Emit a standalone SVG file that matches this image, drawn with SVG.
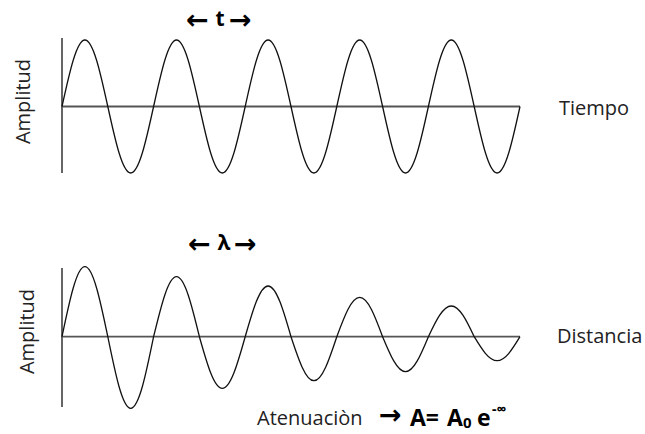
<svg xmlns="http://www.w3.org/2000/svg" width="645" height="434" viewBox="0 0 645 434">
<style>
.axis{stroke:#555;stroke-width:1.8;fill:none}
.wave{stroke:#111;stroke-width:1.3;fill:none}
.lbl{font-family:"Open Sans","Liberation Sans",sans-serif;font-size:20px;fill:#222}
.bold{font-family:"Open Sans","Liberation Sans",sans-serif;font-weight:bold;fill:#000}
.arr{font-family:"DejaVu Sans",sans-serif;font-weight:bold;font-size:27px;fill:#000}
</style>
<rect width="645" height="434" fill="#fff"/>
<g id="top-graph">
<line class="axis" x1="62" y1="38" x2="62" y2="173"/>
<line class="axis" x1="61" y1="106.5" x2="520" y2="106.5"/>
<path class="wave" d="M62,106.5
c 7.47,-34.07 14.61,-66.5 22.9,-66.5 c 8.29,0 15.43,32.43 22.9,66.5 c 7.47,34.07 14.61,66.5 22.9,66.5 c 8.29,0 15.43,-32.43 22.9,-66.5
c 7.47,-34.07 14.61,-66.5 22.9,-66.5 c 8.29,0 15.43,32.43 22.9,66.5 c 7.47,34.07 14.61,66.5 22.9,66.5 c 8.29,0 15.43,-32.43 22.9,-66.5
c 7.47,-34.07 14.61,-66.5 22.9,-66.5 c 8.29,0 15.43,32.43 22.9,66.5 c 7.47,34.07 14.61,66.5 22.9,66.5 c 8.29,0 15.43,-32.43 22.9,-66.5
c 7.47,-34.07 14.61,-66.5 22.9,-66.5 c 8.29,0 15.43,32.43 22.9,66.5 c 7.47,34.07 14.61,66.5 22.9,66.5 c 8.29,0 15.43,-32.43 22.9,-66.5
c 7.47,-34.07 14.61,-66.5 22.9,-66.5 c 8.29,0 15.43,32.43 22.9,66.5 c 7.47,34.07 14.61,66.5 22.9,66.5 c 8.29,0 15.43,-32.43 22.9,-66.5"/>
</g>
<g id="top-labels">
<text class="lbl" transform="translate(30,101.5) rotate(-90)" text-anchor="middle">Amplitud</text>
<text class="lbl" x="559" y="115">Tiempo</text>
<text class="arr" x="186" y="29">←</text>
<text class="bold" x="220" y="26" font-size="21" text-anchor="middle">t</text>
<text class="arr" x="229" y="29">→</text>
</g>
<g id="bottom-graph">
<line class="axis" x1="62" y1="268" x2="62" y2="407"/>
<line class="axis" x1="61" y1="336.7" x2="520" y2="336.7"/>
<path class="wave" d="M62,336.7
c 7.47,-35.86 14.61,-70 22.9,-70 c 8.29,0 15.43,34.14 22.9,70
c 7.47,36.68 14.61,71.6 22.9,71.6 c 8.29,0 15.43,-34.92 22.9,-71.6
c 7.47,-30.74 14.61,-60 22.9,-60 c 8.29,0 15.43,29.26 22.9,60
c 7.47,26.49 14.61,51.7 22.9,51.7 c 8.29,0 15.43,-25.21 22.9,-51.7
c 7.47,-25.97 14.61,-50.7 22.9,-50.7 c 8.29,0 15.43,24.73 22.9,50.7
c 7.47,22.54 14.61,44 22.9,44 c 8.29,0 15.43,-21.46 22.9,-44
c 7.47,-20.13 14.61,-39.3 22.9,-39.3 c 8.29,0 15.43,19.17 22.9,39.3
c 7.47,17.93 14.61,35 22.9,35 c 8.29,0 15.43,-17.07 22.9,-35
c 7.47,-15.73 14.61,-30.7 22.9,-30.7 c 8.29,0 15.43,14.97 22.9,30.7
c 7.47,12.3 14.61,24 22.9,24 c 8.29,0 15.43,-11.7 22.9,-24"/>
</g>
<g id="bottom-labels">
<text class="lbl" transform="translate(34,331.5) rotate(-90)" text-anchor="middle">Amplitud</text>
<text class="lbl" x="557" y="343">Distancia</text>
<text class="arr" x="188" y="253">←</text>
<text class="bold" x="224" y="250" font-size="21" text-anchor="middle">λ</text>
<text class="arr" x="234" y="253">→</text>
<text class="lbl" x="257" y="425">Atenuaciòn</text>
<text class="arr" x="379" y="424">→</text>
<text class="bold" x="410" y="426" font-size="23">A=<tspan x="447">A</tspan><tspan x="463" y="428" font-size="15">0</tspan><tspan x="477" y="426">e</tspan><tspan x="492" y="414" font-size="14">-∞</tspan></text>
</g>
</svg>
